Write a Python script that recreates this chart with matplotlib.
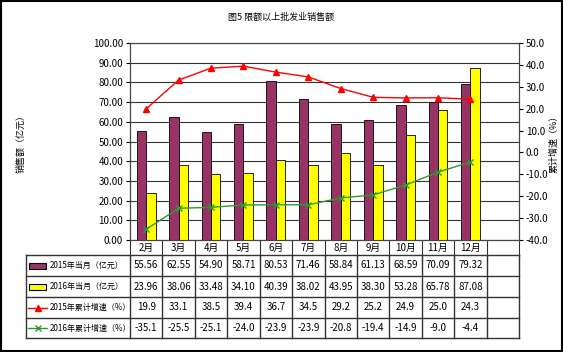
import matplotlib
matplotlib.use('Agg')
import matplotlib.pyplot as plt
import numpy as np

plt.rcParams['font.family'] = ['Liberation Sans Narrow', 'Noto Sans CJK SC', 'DejaVu Sans']
plt.rcParams['font.size'] = 7

# data
months = ['2月', '3月', '4月', '5月', '6月', '7月', '8月', '9月', '10月', '11月', '12月']
sales_2015 = [55.56, 62.55, 54.90, 58.71, 80.53, 71.46, 58.84, 61.13, 68.59, 70.09, 79.32]
sales_2016 = [23.96, 38.06, 33.48, 34.10, 40.39, 38.02, 43.95, 38.30, 53.28, 65.78, 87.08]
growth_2015 = [19.9, 33.1, 38.5, 39.4, 36.7, 34.5, 29.2, 25.2, 24.9, 25.0, 24.3]
growth_2016 = [-35.1, -25.5, -25.1, -24.0, -23.9, -23.9, -20.8, -19.4, -14.9, -9.0, -4.4]
row_labels = ['2015年当月（亿元）', '2016年当月（亿元）', '2015年累计增速（%）', '2016年累计增速（%）']

W, H = 563, 352
fig = plt.figure(figsize=(W / 100, H / 100), dpi=100)
fig.patch.set_facecolor('white')

# outer border
fig.add_artist(plt.Rectangle((0.002, 0.003), 0.996, 0.994, transform=fig.transFigure,
                             fill=False, edgecolor='black', linewidth=1.5))

px_l, px_r, px_t, px_b = 130, 519, 43, 240
pw = px_r - px_l
ax = fig.add_axes([px_l / W, 1 - px_b / H, pw / W, (px_b - px_t) / H])
n_slots = 12
x = np.arange(len(months))
bw = 0.29
ax.bar(x - bw / 2, sales_2015, bw, color='#993366', edgecolor='black', linewidth=0.6, zorder=3)
ax.bar(x + bw / 2, sales_2016, bw, color='#FFFF00', edgecolor='black', linewidth=0.6, zorder=3)
ax.set_xlim(-0.5, n_slots - 0.5)
ax.set_ylim(0, 100)
ax.set_yticks(np.arange(0, 101, 10))
ax.set_yticklabels(['%.2f' % v for v in np.arange(0, 101, 10)])
ax.yaxis.grid(True, color='#333333', linewidth=0.8, zorder=0)
ax.set_axisbelow(True)
ax.set_xticks(np.arange(-0.5, n_slots, 1))
ax.set_xticklabels([])
ax.tick_params(axis='x', length=15, width=0.8, color='#333333')
ax.tick_params(axis='y', length=3, width=0.8, pad=2)
for s in ax.spines.values():
    s.set_color('#444444')
    s.set_linewidth(0.8)
ax.set_ylabel('销售额（亿元）', fontsize=6.5)
ax.yaxis.set_label_coords(-(px_l - 26) / pw, 0.5)

ax2 = ax.twinx()
ax2.plot(x, growth_2015, color='#FF0000', marker='^', markersize=4, linewidth=1, zorder=4)
ax2.plot(x, growth_2016, color='#2E9A2E', marker='x', markersize=4, markeredgewidth=1,
         linewidth=1, zorder=4)
ax2.set_ylim(-40, 50)
ax2.set_yticks(np.arange(-40, 51, 10))
ax2.set_yticklabels(['%.1f' % v for v in np.arange(-40, 51, 10)])
ax2.tick_params(axis='y', length=3, width=0.8, pad=2)
ax2.set_ylabel('累计增速（%）', fontsize=6.5)
ax2.yaxis.set_label_coords(1 + (549 - px_r) / pw, 0.5)
for s in ax2.spines.values():
    s.set_color('#444444')
    s.set_linewidth(0.8)

fig.text(0.5, 1 - 17 / H, '图5 限额以上批发业销售额', ha='center', va='center', fontsize=6.5)

# data table below the chart
tl, tt, tb = 26, 240, 338
tax = fig.add_axes([tl / W, 1 - tb / H, (px_r - tl) / W, (tb - tt) / H])
unit = pw / n_slots
x0 = -0.5 - (px_l - tl) / unit
tax.set_xlim(x0, n_slots - 0.5)
row_edges = [0, 15, 36, 57, 78, 98]
tax.set_ylim(row_edges[-1], 0)
tax.axis('off')

for i, m in enumerate(months):
    tax.text(i, (row_edges[0] + row_edges[1]) / 2, m, ha='center', va='center')

values = [sales_2015, sales_2016, growth_2015, growth_2016]
fmts = ['%.2f', '%.2f', '%.1f', '%.1f']
for r, (vals, fmt) in enumerate(zip(values, fmts)):
    yc = (row_edges[r + 1] + row_edges[r + 2]) / 2
    for i, v in enumerate(vals):
        tax.text(i, yc, fmt % v, ha='center', va='center')
    tax.text(x0 + 0.72, yc, row_labels[r], ha='left', va='center', fontsize=5.8)

# legend keys in label column
kx = x0 + 0.36
ys = [(row_edges[k] + row_edges[k + 1]) / 2 for k in range(1, 5)]
tax.add_patch(plt.Rectangle((kx - 0.27, ys[0] - 3), 0.54, 6, facecolor='#993366', edgecolor='black', linewidth=0.8))
tax.add_patch(plt.Rectangle((kx - 0.27, ys[1] - 3), 0.54, 6, facecolor='#FFFF00', edgecolor='black', linewidth=0.8))
tax.plot([kx - 0.3, kx + 0.3], [ys[2], ys[2]], color='#FF0000', linewidth=1)
tax.plot([kx], [ys[2]], color='#FF0000', marker='^', markersize=4)
tax.plot([kx - 0.3, kx + 0.3], [ys[3], ys[3]], color='#2E9A2E', linewidth=1)
tax.plot([kx], [ys[3]], color='#2E9A2E', marker='x', markersize=4)

# grid lines of table
for yy in row_edges[1:]:
    tax.plot([x0, n_slots - 0.5], [yy, yy], color='#333333', linewidth=1, clip_on=False)
tax.plot([x0, x0], [row_edges[1], row_edges[-1]], color='#333333', linewidth=1, clip_on=False)
for b in np.arange(-0.5, n_slots, 1):
    tax.plot([b, b], [row_edges[1], row_edges[-1]], color='#333333', linewidth=1, clip_on=False)

fig.savefig('out.png', dpi=100)
